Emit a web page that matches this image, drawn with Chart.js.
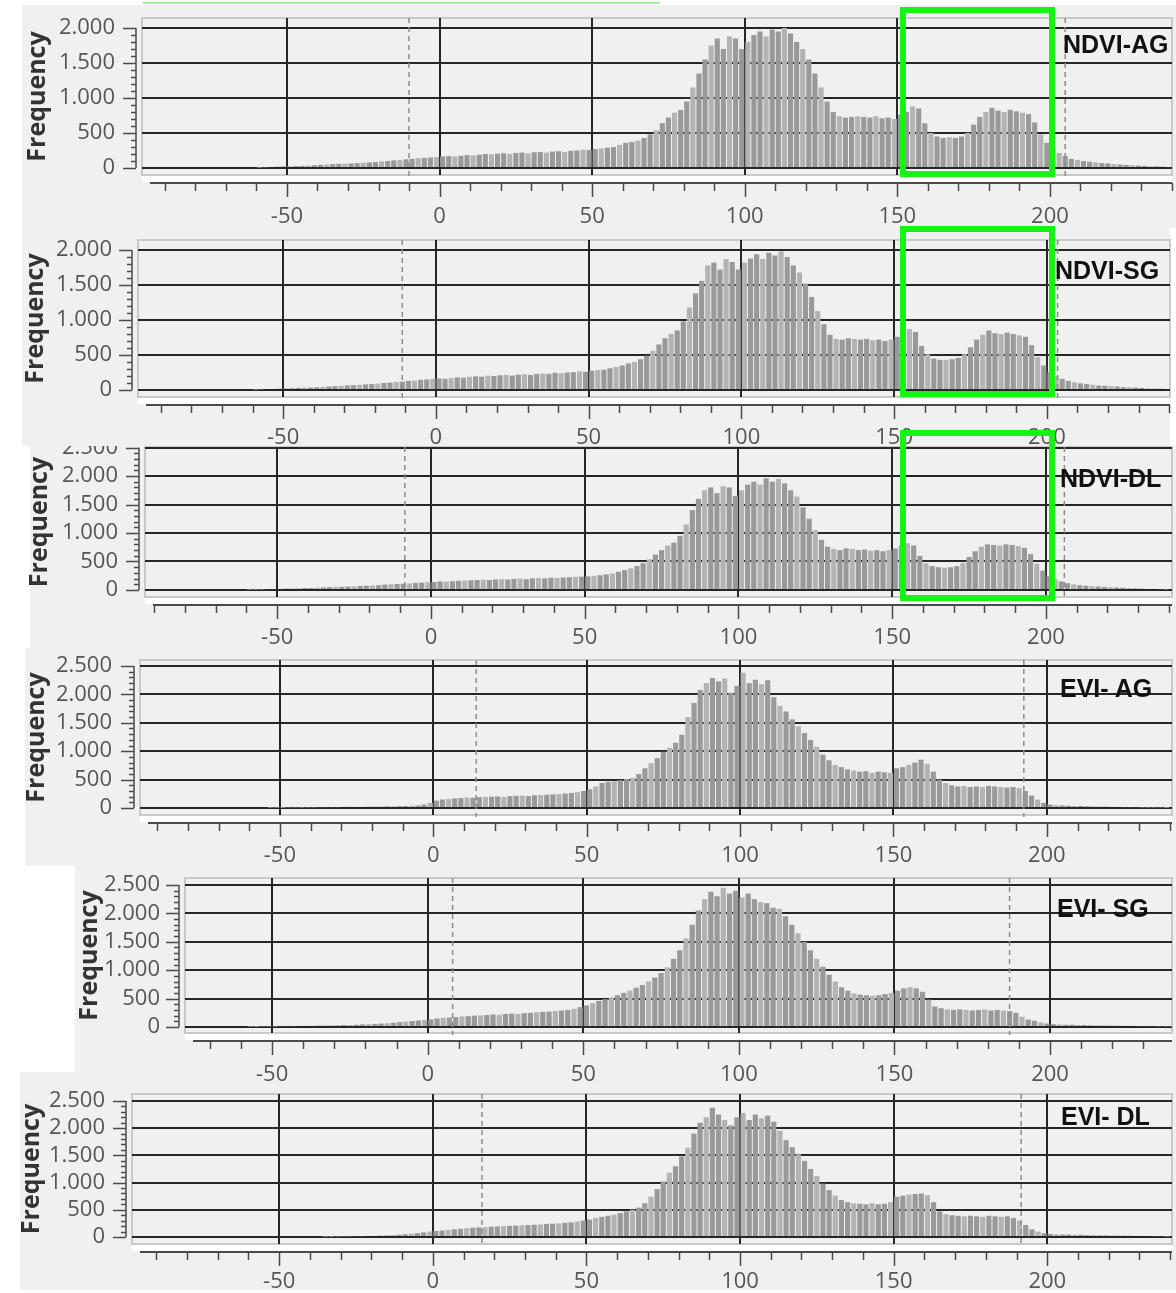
<!DOCTYPE html>
<html>
<head>
<meta charset="utf-8">
<script src="https://cdn.jsdelivr.net/npm/chart.js@4/dist/chart.umd.min.js"></script>
<style>
  html, body { margin: 0; padding: 0; background: #fff; }
  body { width: 1176px; height: 1293px; position: relative; overflow: hidden; font-family: 'Open Sans', sans-serif; }
  .bg { position: absolute; background: #f0f0f0; }
  canvas { position: absolute; z-index: 1; }
  .tag { position: absolute; z-index: 3; font: bold 25px/25px 'Liberation Sans', Arial, sans-serif; color: #111; white-space: nowrap; }
  .box { position: absolute; z-index: 4; box-sizing: border-box; border: 6px solid #14f514; }
  .topline { position: absolute; left: 143px; top: 2px; width: 517px; height: 2px; background: #a6eaa6; }
</style>
</head>
<body>
<div class="topline"></div>
<script>
// ============================================================
// Data (histogram bins of 2 days, first bin starts at -64)
// ============================================================
const binStart = -64;
const binWidth = 2;

const xTicks = [-50, 0, 50, 100, 150, 200];
const yTicks2000 = [0, 500, 1000, 1500, 2000];
const yTicks2500 = [0, 500, 1000, 1500, 2000, 2500];

const ndviAg = [
  0, 0, 5, 10, 15, 20, 22, 25, 28, 30,
  35, 40, 45, 50, 55, 60, 62, 65, 70, 75,
  80, 85, 95, 100, 110, 115, 125, 130, 140, 145,
  150, 155, 165, 170, 165, 175, 185, 180, 190, 200,
  195, 205, 210, 200, 215, 220, 210, 225, 230, 220,
  235, 240, 230, 245, 250, 260, 255, 270, 280, 290,
  300, 330, 360, 370, 390, 430, 480, 540, 640, 720,
  790, 830, 950, 1150, 1350, 1550, 1750, 1850, 1700, 1880,
  1850, 1700, 1800, 1900, 1950, 1880, 1980, 1950, 2000, 1920,
  1800, 1700, 1550, 1350, 1150, 950, 800, 740, 720, 730,
  740, 730, 720, 740, 710, 720, 700, 760, 800, 880,
  850, 640, 500, 450, 430, 440, 430, 450, 500, 620,
  730, 800, 860, 820, 800, 830, 810, 790, 770, 650,
  480, 360, 260, 215, 170, 130, 115, 100, 90, 80,
  70, 65, 55, 50, 45, 40, 35, 30, 25, 25,
  20, 15
];

const ndviSg = [
  0, 0, 5, 10, 15, 15, 20, 25, 25, 30,
  35, 35, 40, 45, 50, 55, 60, 65, 70, 75,
  80, 85, 90, 100, 105, 115, 120, 130, 135, 145,
  150, 160, 165, 160, 170, 180, 175, 190, 195, 190,
  205, 200, 210, 215, 205, 220, 225, 215, 230, 235,
  230, 245, 240, 250, 255, 265, 260, 275, 285, 290,
  310, 330, 350, 380, 400, 440, 490, 560, 650, 740,
  800, 850, 980, 1180, 1380, 1560, 1780, 1820, 1720, 1870,
  1830, 1720, 1820, 1880, 1940, 1870, 1960, 1920, 1980, 1900,
  1780, 1680, 1520, 1330, 1130, 940, 790, 730, 720, 740,
  730, 720, 730, 710, 720, 700, 720, 760, 820, 870,
  830, 630, 510, 450, 430, 430, 440, 460, 510, 610,
  720, 790, 850, 810, 800, 820, 800, 780, 760, 640,
  470, 350, 250, 200, 160, 130, 110, 95, 85, 75,
  65, 60, 55, 50, 40, 40, 35, 30, 25, 20,
  20, 15
];

const ndviDl = [
  0, 0, 5, 5, 10, 15, 15, 20, 25, 25,
  30, 35, 35, 40, 45, 50, 55, 55, 60, 65,
  70, 75, 80, 85, 95, 100, 105, 110, 115, 125,
  130, 135, 140, 150, 145, 155, 160, 165, 170, 175,
  180, 175, 185, 190, 185, 195, 200, 190, 205, 210,
  205, 215, 210, 220, 225, 230, 235, 240, 250, 260,
  275, 290, 320, 350, 380, 420, 470, 540, 620, 700,
  780, 830, 950, 1150, 1400, 1600, 1750, 1800, 1700, 1820,
  1800, 1650, 1750, 1850, 1900, 1850, 1960, 1900, 1950, 1870,
  1750, 1640, 1450, 1250, 1050, 880, 760, 720, 700, 730,
  720, 700, 710, 690, 700, 680, 700, 730, 780, 820,
  780, 600, 470, 420, 400, 390, 400, 420, 470, 580,
  680, 760, 800, 790, 780, 800, 790, 770, 740, 630,
  460, 340, 240, 190, 150, 120, 100, 85, 75, 65,
  60, 55, 50, 45, 40, 35, 30, 25, 20, 20,
  15, 10
];

const eviAg = [
  0, 0, 0, 0, 0, 5, 5, 5, 10, 10,
  10, 10, 10, 15, 15, 15, 15, 20, 20, 20,
  20, 25, 25, 25, 30, 30, 35, 35, 40, 45,
  60, 90, 130, 150, 160, 170, 175, 185, 180, 190,
  195, 200, 205, 195, 210, 215, 220, 210, 225, 230,
  235, 240, 245, 255, 265, 280, 300, 330, 380, 440,
  460, 470, 490, 510, 530, 600, 700, 790, 880, 990,
  1060, 1150, 1290, 1600, 1850, 2080, 2200, 2290, 2230, 2280,
  2030, 2150, 2380, 2200, 2260, 2180, 2250, 1950, 1800, 1700,
  1560, 1440, 1320, 1200, 1080, 940, 840, 760, 720, 680,
  660, 640, 650, 620, 640, 630, 620, 700, 720, 760,
  800, 850, 780, 640, 500, 440, 400, 380, 390, 370,
  380, 370, 390, 380, 370, 360, 370, 350, 300, 220,
  150, 90, 60, 50, 45, 40, 35, 35, 30, 30,
  25, 25, 20, 20, 15, 15, 15, 10, 10, 10,
  10, 5
];

const eviSg = [
  0, 0, 0, 5, 5, 10, 10, 10, 15, 15,
  15, 20, 20, 20, 25, 25, 30, 30, 35, 35,
  40, 45, 50, 55, 60, 65, 75, 85, 95, 105,
  115, 125, 135, 150, 160, 165, 175, 185, 190, 200,
  205, 210, 220, 215, 230, 235, 230, 245, 250, 260,
  265, 270, 280, 290, 300, 320, 350, 380, 420, 460,
  490, 520, 560, 600, 640, 690, 740, 800, 870, 950,
  1050, 1200, 1350, 1560, 1800, 2050, 2250, 2380, 2300, 2450,
  2350, 2400, 2280, 2350, 2250, 2200, 2180, 2100, 2080, 1950,
  1800, 1650, 1500, 1350, 1200, 1060, 920, 800, 700, 640,
  590, 570, 560, 550, 560, 580, 600, 640, 680, 700,
  680, 620, 480, 360, 330, 310, 300, 310, 300, 290,
  300, 310, 290, 300, 290, 280, 250, 180, 130, 110,
  80, 60, 50, 45, 40, 40, 35, 35, 30, 30,
  25, 25, 25, 20, 20, 20, 15, 15, 15, 10,
  10, 10
];

const eviDl = [
  0, 0, 0, 0, 0, 0, 0, 0, 0, 0,
  0, 0, 0, 0, 5, 5, 10, 10, 10, 15,
  15, 20, 20, 25, 30, 35, 40, 50, 60, 70,
  85, 100, 110, 120, 130, 140, 150, 160, 170, 175,
  180, 190, 195, 200, 205, 210, 215, 220, 225, 230,
  240, 245, 250, 260, 270, 285, 300, 320, 350, 370,
  390, 410, 440, 470, 500, 540, 620, 740, 880, 1020,
  1180, 1300, 1480, 1640, 1900, 2100, 2200, 2375, 2250, 2150,
  2050, 2200, 2280, 2150, 2250, 2180, 2230, 2120, 1950, 1780,
  1650, 1520, 1400, 1250, 1120, 980, 860, 760, 680, 640,
  620, 610, 600, 620, 600, 610, 640, 740, 760, 780,
  790, 800, 770, 640, 470, 420, 400, 390, 380, 390,
  380, 370, 390, 380, 370, 380, 350, 300, 220, 140,
  100, 70, 55, 50, 45, 45, 40, 40, 35, 35,
  30, 30, 30, 25, 25, 25, 20, 20, 20, 15,
  15, 10
];

// dashed reference lines (x values)
const dashNdviAg = [-10, 205];
const dashNdviSg = [-11, 203.5];
const dashNdviDl = [-8.5, 206];
const dashEviAg = [14, 192.5];
const dashEviSg = [8, 187];
const dashEviDl = [16, 191.5];

// ============================================================
// Layout of the six panels
// ============================================================
const panels = [
  { name: 'NDVI-AG', data: ndviAg, dashes: dashNdviAg, yTicks: yTicks2000,
    bg: [22, 5, 1154, 223], canvas: [24, 5, 1152, 229], area: [142, 18, 1172, 175],
    xRange: [-97.5, 240], yRange: [-100, 2143], yPad: 27, xPad: 29, tag: [1063, 32], box: [900, 7, 155, 170] },
  { name: 'NDVI-SG', data: ndviSg, dashes: dashNdviSg, yTicks: yTicks2000,
    bg: [22, 228, 1148, 218], canvas: [22, 228, 1154, 224], area: [138, 240, 1170, 397],
    xRange: [-97.5, 240.3], yRange: [-100, 2143], yPad: 26, xPad: 28, tag: [1055, 258], box: [900, 226, 155, 171] },
  { name: 'NDVI-DL', data: ndviDl, dashes: dashNdviDl, yTicks: yTicks2500,
    bg: [30, 446, 1146, 202], canvas: [26, 446, 1150, 206], area: [145, 447, 1172, 597],
    xRange: [-93, 241], yRange: [-123, 2509], yPad: 27, xPad: 28, tag: [1060, 466], box: [900, 430, 155, 171] },
  { name: 'EVI- AG', data: eviAg, dashes: dashEviAg, yTicks: yTicks2500,
    bg: [25, 648, 1151, 218], canvas: [23, 648, 1153, 222], area: [140, 660, 1172, 815],
    xRange: [-95.6, 240.8], yRange: [-123, 2606], yPad: 28, xPad: 28, tag: [1060, 676] },
  { name: 'EVI- SG', data: eviSg, dashes: dashEviSg, yTicks: yTicks2500,
    bg: [75, 866, 1101, 206], canvas: [76, 866, 1100, 224], area: [185, 878, 1172, 1033],
    xRange: [-78, 239.2], yRange: [-106, 2623], yPad: 25, xPad: 29, tag: [1057, 896] },
  { name: 'EVI- DL', data: eviDl, dashes: dashEviDl, yTicks: yTicks2500,
    bg: [20, 1072, 1156, 218], canvas: [18, 1072, 1158, 221], area: [132, 1094, 1172, 1244],
    xRange: [-97.9, 240.6], yRange: [-129, 2628], yPad: 27, xPad: 25, tag: [1061, 1104] }
];

// ============================================================
// Plot frame, axis strips and dashed lines
// ============================================================
const decor = {
  id: 'decor',
  beforeDraw(chart) {
    const { ctx, chartArea: a } = chart;
    ctx.save();
    ctx.fillStyle = '#f0f0f0';
    ctx.fillRect(a.left, a.top, a.right - a.left, a.bottom - a.top);
    ctx.strokeStyle = '#c9c9c9';
    ctx.lineWidth = 2;
    ctx.strokeRect(a.left, a.top, a.right - a.left, a.bottom - a.top);
    ctx.fillStyle = '#ffffff';
    ctx.fillRect(a.left, a.bottom + 1, a.right - a.left, 6);
    ctx.restore();
  },
  afterDatasetsDraw(chart, args, opts) {
    const { ctx, chartArea: a, scales: { x } } = chart;
    ctx.save();
    ctx.strokeStyle = '#8c8c8c';
    ctx.lineWidth = 1.5;
    ctx.setLineDash([5, 4]);
    opts.dashes.forEach(v => {
      const px = x.getPixelForValue(v);
      ctx.beginPath();
      ctx.moveTo(px, a.top);
      ctx.lineTo(px, a.bottom + 2);
      ctx.stroke();
    });
    ctx.restore();
  },
  afterDraw(chart, args, opts) {
    const { ctx, chartArea: a, scales: { x, y } } = chart;
    ctx.save();
    ctx.strokeStyle = '#4a4a4a';

    // x axis strip below the plot
    const axisY = a.bottom + 8;
    ctx.lineWidth = 2;
    ctx.beginPath();
    ctx.moveTo(a.left + 8, axisY);
    ctx.lineTo(a.right, axisY);
    ctx.stroke();
    ctx.lineWidth = 1.5;
    ctx.beginPath();
    for (let v = Math.ceil(x.min / 10) * 10; v <= x.max; v += 10) {
      const px = Math.round(x.getPixelForValue(v)) + 0.5;
      ctx.moveTo(px, axisY);
      ctx.lineTo(px, axisY + (v % 50 === 0 ? 14 : 8));
    }
    ctx.stroke();

    // y axis with minor ticks
    const axisX = a.left - 6;
    ctx.beginPath();
    ctx.moveTo(axisX, y.getPixelForValue(0));
    ctx.lineTo(axisX, y.getPixelForValue(opts.yTop));
    for (let v = 0; v <= opts.yTop; v += 100) {
      const py = Math.round(y.getPixelForValue(v)) + 0.5;
      ctx.moveTo(axisX, py);
      ctx.lineTo(axisX - (v % 500 === 0 ? 13 : 5), py);
    }
    ctx.stroke();
    ctx.restore();
  }
};

function fmtCount(v) {
  if (v < 1000) return String(v);
  return Math.floor(v / 1000) + '.' + String(v % 1000).padStart(3, '0');
}

// ============================================================
// Build panels
// ============================================================
panels.forEach(p => {
  const bg = document.createElement('div');
  bg.className = 'bg';
  bg.style.cssText = `left:${p.bg[0]}px;top:${p.bg[1]}px;width:${p.bg[2]}px;height:${p.bg[3]}px;`;
  document.body.appendChild(bg);

  const [L, T, W, H] = p.canvas;
  const [cl, ct, cr, cb] = p.area;
  const cv = document.createElement('canvas');
  cv.width = W;
  cv.height = H;
  cv.style.cssText = `left:${L}px;top:${T}px;width:${W}px;height:${H}px;`;
  document.body.appendChild(cv);

  const yWidth = cl - L;
  const xHeight = T + H - cb;
  const tickFont = { family: "'Open Sans', sans-serif", size: 22 };

  new Chart(cv, {
    type: 'bar',
    data: {
      datasets: [{
        data: p.data.map((v, i) => ({ x: binStart + binWidth * i + binWidth / 2, y: v })),
        backgroundColor: c => (c.dataIndex % 3 === 1 ? '#b3b3b3' : '#999999'),
        borderWidth: 0,
        barPercentage: 0.84,
        categoryPercentage: 1
      }]
    },
    options: {
      responsive: false,
      animation: false,
      events: [],
      layout: {
        autoPadding: false,
        padding: { left: 0, top: ct - T, right: L + W - cr, bottom: 0 }
      },
      plugins: {
        legend: { display: false },
        tooltip: { enabled: false },
        decor: { dashes: p.dashes, yTop: p.yTicks[p.yTicks.length - 1] }
      },
      scales: {
        x: {
          type: 'linear',
          min: p.xRange[0],
          max: p.xRange[1],
          offset: false,
          z: 1,
          grid: { offset: false, color: '#262626', lineWidth: 2, drawTicks: false },
          border: { display: false },
          ticks: { padding: p.xPad, color: '#555', font: tickFont, autoSkip: false, maxRotation: 0, callback: v => String(v) },
          afterBuildTicks: s => { s.ticks = xTicks.map(v => ({ value: v })); },
          afterFit: s => { s.height = xHeight; s.paddingLeft = 0; s.paddingRight = 0; }
        },
        y: {
          min: p.yRange[0],
          max: p.yRange[1],
          z: 1,
          grid: { color: '#262626', lineWidth: 2, drawTicks: false },
          border: { display: false },
          ticks: { padding: p.yPad, color: '#555', font: tickFont, autoSkip: false, callback: v => fmtCount(v) },
          title: {
            display: true,
            text: 'Frequency',
            color: '#333',
            font: { family: "'Open Sans', sans-serif", size: 25, weight: 'bold', lineHeight: 1 },
            padding: { top: 1, bottom: 0 }
          },
          afterBuildTicks: s => { s.ticks = p.yTicks.map(v => ({ value: v })); },
          afterFit: s => { s.width = yWidth; s.paddingTop = 0; s.paddingBottom = 0; }
        }
      }
    },
    plugins: [decor]
  });

  const tag = document.createElement('div');
  tag.className = 'tag';
  tag.textContent = p.name;
  tag.style.left = p.tag[0] + 'px';
  tag.style.top = p.tag[1] + 'px';
  document.body.appendChild(tag);

  if (p.box) {
    const box = document.createElement('div');
    box.className = 'box';
    box.style.cssText = `left:${p.box[0]}px;top:${p.box[1]}px;width:${p.box[2]}px;height:${p.box[3]}px;`;
    document.body.appendChild(box);
  }
});
</script>
</body>
</html>
